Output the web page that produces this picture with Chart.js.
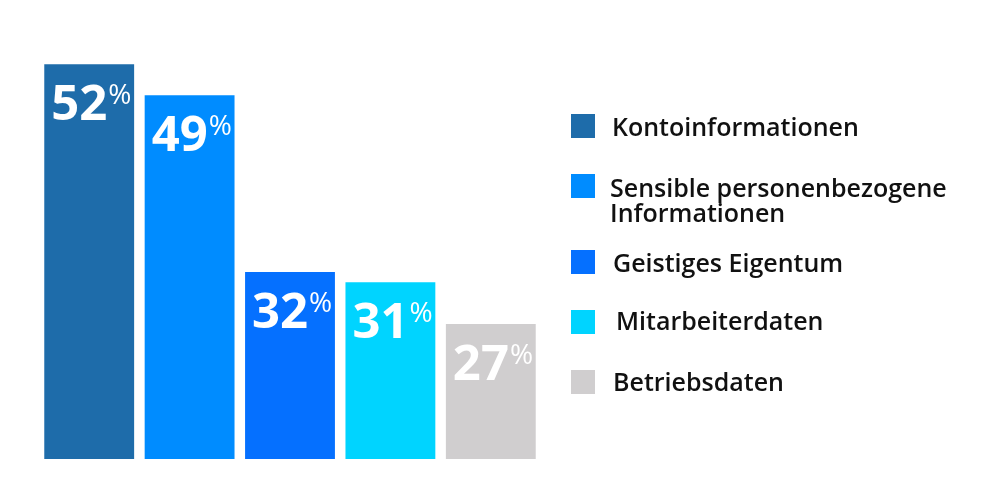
<!DOCTYPE html>
<html>
<head>
<meta charset="utf-8">
<script src="https://cdn.jsdelivr.net/npm/chart.js@4.4.1/dist/chart.umd.min.js"></script>
<style>
  html, body { margin: 0; padding: 0; background: #ffffff; }
  #wrap { width: 1000px; height: 500px; position: relative; }
</style>
</head>
<body>
<div id="wrap"><canvas id="c"></canvas></div>
<script>
// ---- data ----
const categories = [
  'Kontoinformationen',
  ['Sensible personenbezogene', 'Informationen'],
  'Geistiges Eigentum',
  'Mitarbeiterdaten',
  'Betriebsdaten'
];
const values = [52, 49, 32, 31, 27];
const barColors = ['#1e6caa', '#008cff', '#0570ff', '#00d4ff', '#d0cecf'];

// ---- layout (styles / positions, kept apart from data) ----
const legendLayout = [
  { boxY: 114, textX: 612, baseline: 136 },
  { boxY: 174, textX: 610, baseline: 197 },
  { boxY: 250, textX: 613, baseline: 272 },
  { boxY: 310, textX: 616, baseline: 330 },
  { boxY: 370, textX: 613, baseline: 391 }
];

const valueLabels = {
  id: 'valueLabels',
  afterDatasetsDraw(chart) {
    const ctx = chart.ctx;
    const meta = chart.getDatasetMeta(0);
    ctx.save();
    ctx.fillStyle = '#ffffff';
    ctx.textBaseline = 'alphabetic';
    ctx.textAlign = 'left';
    meta.data.forEach((bar, i) => {
      const left = bar.x - bar.width / 2;
      const top = bar.y;
      const num = String(chart.data.datasets[0].data[i]);
      ctx.font = '700 49px "Open Sans"';
      const x0 = left + 7;
      ctx.fillText(num, x0, top + 56);
      const w = ctx.measureText(num).width;
      ctx.font = '400 28px "Open Sans"';
      ctx.fillText('%', x0 + w + 1, top + 40);
    });
    ctx.restore();
  }
};

const sideLegend = {
  id: 'sideLegend',
  afterDraw(chart) {
    const ctx = chart.ctx;
    ctx.save();
    ctx.textBaseline = 'alphabetic';
    ctx.textAlign = 'left';
    chart.data.labels.forEach((lab, i) => {
      const L = legendLayout[i];
      ctx.fillStyle = chart.data.datasets[0].backgroundColor[i];
      ctx.fillRect(571, L.boxY, 24, 24);
      ctx.fillStyle = '#111111';
      ctx.font = '600 25px "Open Sans"';
      const lines = Array.isArray(lab) ? lab : [lab];
      lines.forEach((t, k) => ctx.fillText(t, L.textX, L.baseline + k * 25));
    });
    ctx.restore();
  }
};

new Chart(document.getElementById('c'), {
  type: 'bar',
  data: {
    labels: categories,
    datasets: [{
      data: values,
      backgroundColor: barColors,
      borderWidth: 0,
      categoryPercentage: 1.0,
      barPercentage: 0.895
    }]
  },
  options: {
    responsive: true,
    maintainAspectRatio: false,
    animation: false,
    layout: { padding: { left: 39, right: 459, top: 33, bottom: 41 } },
    plugins: { legend: { display: false }, tooltip: { enabled: false } },
    scales: {
      x: { display: false },
      y: { display: false, min: 14, max: 55 }
    }
  },
  plugins: [valueLabels, sideLegend]
});
</script>
</body>
</html>
